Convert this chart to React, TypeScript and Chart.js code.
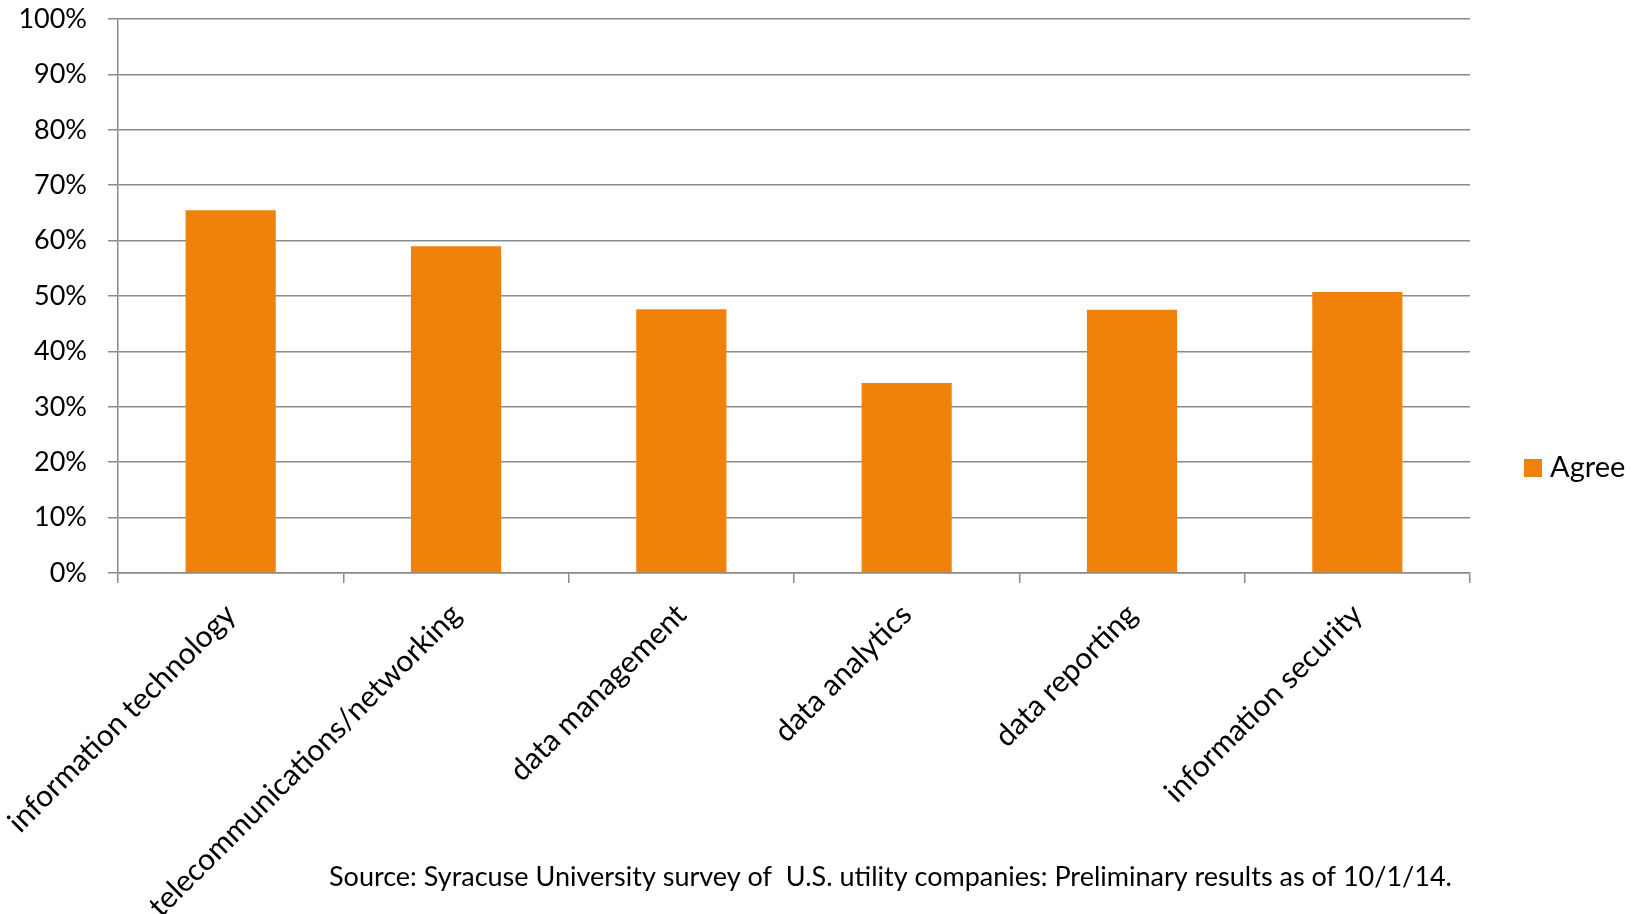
import React, { useEffect, useRef } from "react";
import { Chart, registerables } from "chart.js";

Chart.register(...registerables);

const categories = [
  "information technology",
  "telecommunications/networking",
  "data management",
  "data analytics",
  "data reporting",
  "information security",
];
const agreeValues = [65.5, 59.0, 47.6, 34.3, 47.5, 50.7];
const seriesLabel = "Agree";
const yMin = 0;
const yMax = 100;
const yStep = 10;
const sourceNote =
  "Source: Syracuse University survey of  U.S. utility companies: Preliminary results as of 10/1/14.";

const FONT = "Lato, 'Open Sans', sans-serif";
const BAR_COLOR = "rgb(240,130,12)";
const GRID_COLOR = "#8a8a8a";

const W = 1642;
const H = 914;

const notesPlugin = {
  id: "notesPlugin",
  afterDraw(chart: any) {
    const ctx = chart.ctx as CanvasRenderingContext2D;
    const ds = chart.data.datasets[0];
    ctx.save();
    // legend
    ctx.fillStyle = ds.backgroundColor;
    ctx.fillRect(1524, 459, 18, 18);
    ctx.fillStyle = "#000";
    ctx.font = `29px ${FONT}`;
    ctx.textBaseline = "middle";
    ctx.textAlign = "left";
    ctx.fillText(ds.label, 1550, 468);
    // source note
    ctx.font = `27px ${FONT}`;
    ctx.fillText(sourceNote, 329, 877);
    ctx.restore();
  },
};

export default function App() {
  const ref = useRef<HTMLCanvasElement | null>(null);

  useEffect(() => {
    if (!ref.current) return;
    const chart = new Chart(ref.current, {
      type: "bar",
      data: {
        labels: categories,
        datasets: [
          {
            label: seriesLabel,
            data: agreeValues,
            backgroundColor: BAR_COLOR,
            borderWidth: 0,
            categoryPercentage: 1,
            barPercentage: 0.4,
          },
        ],
      },
      options: {
        responsive: false,
        animation: false,
        devicePixelRatio: 1,
        layout: { padding: { top: 19, right: 172, bottom: 0, left: 0 } },
        plugins: {
          legend: { display: false },
          tooltip: { enabled: false },
        },
        scales: {
          x: {
            offset: true,
            grid: {
              display: true,
              drawOnChartArea: false,
              drawTicks: true,
              tickLength: 10,
              color: GRID_COLOR,
              lineWidth: 1.5,
              offset: true,
            },
            border: { display: true, color: GRID_COLOR, width: 1.5 },
            ticks: {
              autoSkip: false,
              maxRotation: 45,
              minRotation: 45,
              color: "#000",
              padding: 14,
              font: { family: FONT, size: 30 },
            },
            afterFit: (scale: any) => {
              scale.height = 341;
              scale.paddingLeft = 0;
              scale.paddingRight = 0;
            },
          },
          y: {
            min: yMin,
            max: yMax,
            grid: {
              color: GRID_COLOR,
              lineWidth: 1.5,
              drawTicks: true,
              tickLength: 10,
            },
            border: { display: true, color: GRID_COLOR, width: 1.5 },
            ticks: {
              stepSize: yStep,
              color: "#000",
              padding: 21,
              font: { family: FONT, size: 27 },
              callback: (v: any) => `${v}%`,
            },
            afterFit: (scale: any) => {
              scale.width = 118;
              scale.paddingTop = 0;
              scale.paddingBottom = 0;
            },
          },
        },
      },
      plugins: [notesPlugin],
    });
    return () => chart.destroy();
  }, []);

  return (
    <div style={{ position: "absolute", left: 0, top: 0, width: W, height: H, background: "#fff" }}>
      <canvas ref={ref} width={W} height={H} style={{ display: "block" }} />
    </div>
  );
}
